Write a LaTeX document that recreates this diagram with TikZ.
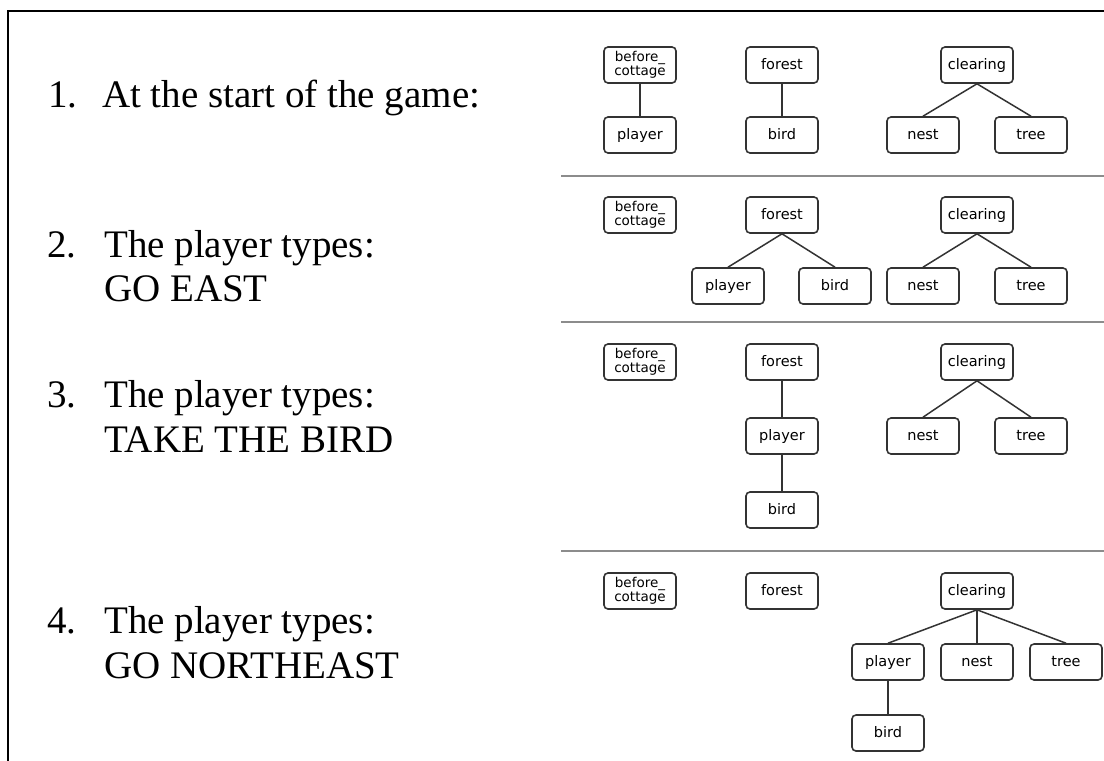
\documentclass[tikz,border=0pt]{standalone}
\usepackage{fontspec}
\setmainfont{Liberation Serif}
\newfontfamily\boxfont{DejaVu Sans}
\begin{document}
\begin{tikzpicture}[x=1pt,y=-1pt,
  obj/.style={draw=black!80,line width=1.6pt,rounded corners=4pt,fill=white,
    minimum width=72pt,minimum height=36pt,inner sep=1pt,
    text height=11pt,text depth=2pt,
    font=\boxfont\fontsize{14.5}{14}\selectfont,text=black},
  twoline/.style={obj,align=center,text height=,text depth=,
    font=\boxfont\fontsize{13.5}{11.5}\selectfont},
  link/.style={draw=black!80,line width=1.5pt},
  sep/.style={draw=black!45,line width=1.5pt},
  frame/.style={draw=black,line width=2.6pt},
  lbl/.style={anchor=base west,inner sep=0pt,font=\fontsize{39}{45}\selectfont}]
\useasboundingbox (0,0) rectangle (1104,761);
% frame
\coordinate (ftl) at (8,11);
\coordinate (ftr) at (1104,11);
\coordinate (fbl) at (8,761);
\draw[frame] (fbl) -- (ftl) -- (ftr);
% separators
\coordinate (s1a) at (561,176); \coordinate (s1b) at (1104,176);
\coordinate (s2a) at (561,322); \coordinate (s2b) at (1104,322);
\coordinate (s3a) at (561,551); \coordinate (s3b) at (1104,551);
\draw[sep] (s1a) -- (s1b);
\draw[sep] (s2a) -- (s2b);
\draw[sep] (s3a) -- (s3b);
% left texts
\node[lbl] (n1) at (48,107) {1.};
\node[lbl] (t1a) at (102,107) {At the start of the game:};
\node[lbl] (n2) at (47,257) {2.};
\node[lbl] (t2a) at (104,257) {The player types:};
\node[lbl] (t2b) at (104,301) {GO EAST};
\node[lbl] (n3) at (47,407) {3.};
\node[lbl] (t3a) at (104,407) {The player types:};
\node[lbl] (t3b) at (104,452) {TAKE THE BIRD};
\node[lbl] (n4) at (47,633) {4.};
\node[lbl] (t4a) at (104,633) {The player types:};
\node[lbl] (t4b) at (104,678) {GO NORTHEAST};
% row 1
\node[twoline] (bc1) at (640,65) {before\_\\cottage};
\node[obj] (p1) at (640,135) {player};
\node[obj] (f1) at (782,65) {forest};
\node[obj] (b1) at (782,135) {bird};
\node[obj] (c1) at (977,65) {clearing};
\node[obj] (ne1) at (923,135) {nest};
\node[obj] (tr1) at (1031,135) {tree};
\draw[link] (bc1.south) -- (p1.north);
\draw[link] (f1.south) -- (b1.north);
\draw[link] (c1.south) -- (ne1.north);
\draw[link] (c1.south) -- (tr1.north);
% row 2
\node[twoline] (bc2) at (640,215) {before\_\\cottage};
\node[obj] (f2) at (782,215) {forest};
\node[obj] (p2) at (728,286) {player};
\node[obj] (b2) at (835,286) {bird};
\node[obj] (c2) at (977,215) {clearing};
\node[obj] (ne2) at (923,286) {nest};
\node[obj] (tr2) at (1031,286) {tree};
\draw[link] (f2.south) -- (p2.north);
\draw[link] (f2.south) -- (b2.north);
\draw[link] (c2.south) -- (ne2.north);
\draw[link] (c2.south) -- (tr2.north);
% row 3
\node[twoline] (bc3) at (640,362) {before\_\\cottage};
\node[obj] (f3) at (782,362) {forest};
\node[obj] (p3) at (782,436) {player};
\node[obj] (b3) at (782,510) {bird};
\node[obj] (c3) at (977,362) {clearing};
\node[obj] (ne3) at (923,436) {nest};
\node[obj] (tr3) at (1031,436) {tree};
\draw[link] (f3.south) -- (p3.north);
\draw[link] (p3.south) -- (b3.north);
\draw[link] (c3.south) -- (ne3.north);
\draw[link] (c3.south) -- (tr3.north);
% row 4
\node[twoline] (bc4) at (640,591) {before\_\\cottage};
\node[obj] (f4) at (782,591) {forest};
\node[obj] (c4) at (977,591) {clearing};
\node[obj] (p4) at (888,662) {player};
\node[obj] (ne4) at (977,662) {nest};
\node[obj] (tr4) at (1066,662) {tree};
\node[obj] (b4) at (888,733) {bird};
\draw[link] (c4.south) -- (p4.north);
\draw[link] (c4.south) -- (ne4.north);
\draw[link] (c4.south) -- (tr4.north);
\draw[link] (p4.south) -- (b4.north);
\end{tikzpicture}
\end{document}
